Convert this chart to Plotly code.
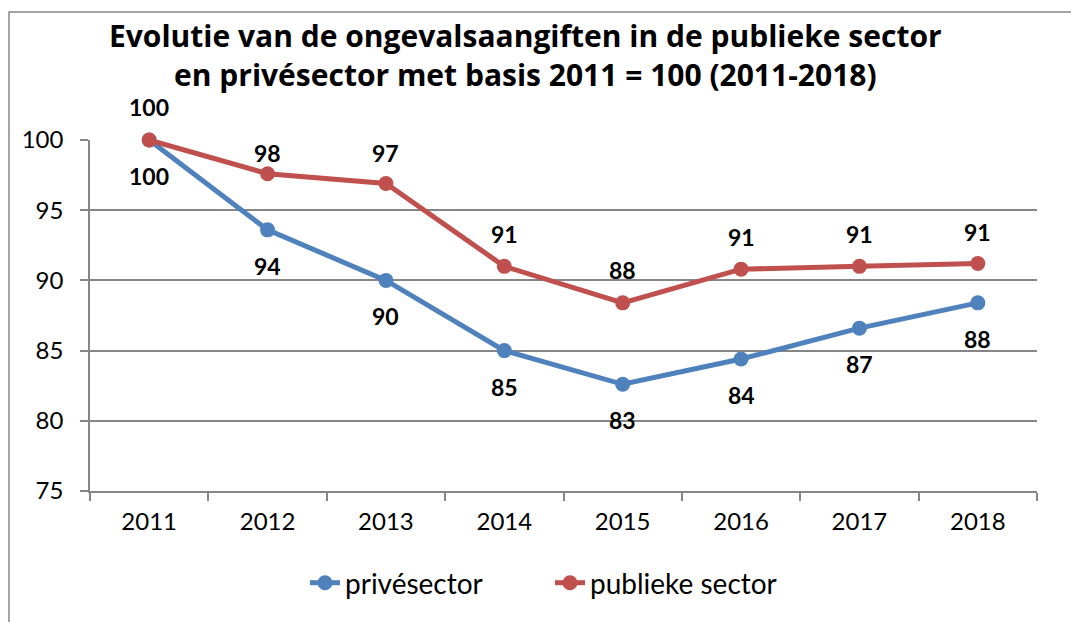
import plotly.graph_objects as go

years = ["2011", "2012", "2013", "2014", "2015", "2016", "2017", "2018"]
prive = [100, 93.6, 90.0, 85.0, 82.6, 84.4, 86.6, 88.4]
publiek = [100, 97.6, 96.9, 91.0, 88.4, 90.8, 91.0, 91.2]
y_ticks = [75, 80, 85, 90, 95, 100]

BLUE = "#4F81BD"
RED = "#C0504D"
GRID = "#868686"
FONT = "Lato"

# label offsets (px) for data labels
prive_shift = [-36] * len(years)
publiek_shift = [33, 21, 31, 32, 33, 32, 32, 32]

fig = go.Figure()
fig.add_trace(go.Scatter(x=years, y=prive, name="privésector", mode="lines+markers",
                         line=dict(color=BLUE, width=5), marker=dict(size=15, color=BLUE),
                         cliponaxis=False))
fig.add_trace(go.Scatter(x=years, y=publiek, name="publieke sector", mode="lines+markers",
                         line=dict(color=RED, width=5), marker=dict(size=15, color=RED),
                         cliponaxis=False))

annotations = []
for i, (v, s) in enumerate(zip(prive, prive_shift)):
    annotations.append(dict(x=i, y=v, xref="x", yref="y", text=f"<b>{round(v):d}</b>",
                            showarrow=False, yshift=s,
                            font=dict(family=FONT, size=23, color="black")))
for i, (v, s) in enumerate(zip(publiek, publiek_shift)):
    annotations.append(dict(x=i, y=v, xref="x", yref="y", text=f"<b>{round(v):d}</b>",
                            showarrow=False, yshift=s,
                            font=dict(family=FONT, size=23, color="black")))

L, R, T, B = 90, 34, 140, 131
W, H = 1071, 622
pw, ph = W - L - R, H - T - B

def px_x(x):
    return (x - L) / pw

def px_y(y):
    return (H - B - y) / ph

annotations.append(dict(xref="paper", yref="paper", x=px_x(525), y=px_y(55),
                        text="<b>Evolutie van de ongevalsaangiften in de publieke sector<br>en privésector met basis 2011 = 100 (2011-2018)</b>",
                        showarrow=False, xanchor="center", yanchor="middle",
                        font=dict(family="Open Sans", size=30, color="black")))

fig.update_layout(
    width=W, height=H,
    margin=dict(l=L, r=R, t=T, b=B),
    paper_bgcolor="white", plot_bgcolor="white",
    showlegend=True,
    legend=dict(orientation="h", x=px_x(550), xanchor="center", y=px_y(583), yanchor="middle",
                font=dict(family=FONT, size=28, color="black"), entrywidth=200),
    annotations=annotations,
    shapes=[dict(type="rect", xref="paper", yref="paper",
                 x0=px_x(9), x1=px_x(1080), y0=px_y(640), y1=px_y(12),
                 line=dict(color=GRID, width=1.5), layer="below")],
    xaxis=dict(type="category", range=[-0.5, 7.5], showline=True, linecolor=GRID, linewidth=1.5,
               ticks="outside", tickson="boundaries", ticklen=8, tickcolor=GRID, tickwidth=1.5,
               showgrid=False, ticklabelstandoff=8,
               tickfont=dict(family=FONT, size=24, color="black")),
    yaxis=dict(range=[75, 100], tickvals=y_ticks, showline=True, linecolor=GRID, linewidth=1.5,
               ticks="outside", ticklen=8, tickcolor=GRID, tickwidth=1.5,
               showgrid=True, gridcolor=GRID, gridwidth=1.5, zeroline=False,
               ticklabelstandoff=12,
               tickfont=dict(family=FONT, size=24, color="black")),
)

fig.write_html("out.html", config={"displayModeBar": False},
               post_script="document.body.style.margin='0';")
